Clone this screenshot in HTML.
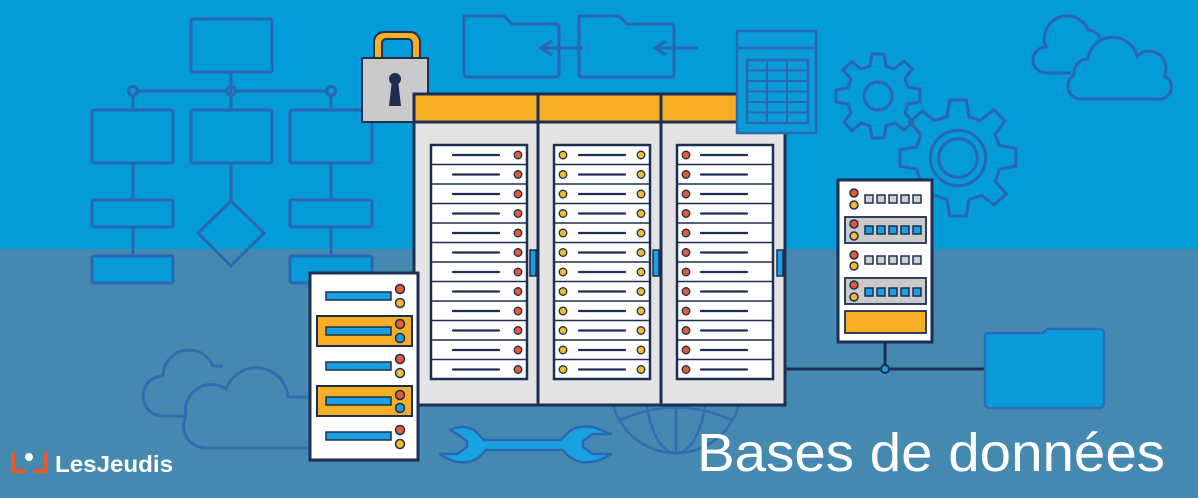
<!DOCTYPE html>
<html><head><meta charset="utf-8"><style>
html,body{margin:0;padding:0;width:1198px;height:498px;overflow:hidden;background:#4589b0}
svg{display:block}
</style></head><body>
<svg width="1198" height="498" viewBox="0 0 1198 498" xmlns="http://www.w3.org/2000/svg" font-family="Liberation Sans, sans-serif">
<rect x="0" y="0" width="1198" height="249" fill="#049bd9"/>
<rect x="0" y="249" width="1198" height="249" fill="#4589b0"/>

<!-- flowchart -->
<g fill="none" stroke="#2a67b3" stroke-width="3">
<rect x="191" y="19" width="81" height="53" rx="2"/>
<line x1="231" y1="72" x2="231" y2="110"/>
<line x1="137" y1="91" x2="227" y2="91"/><line x1="235" y1="91" x2="327" y2="91"/>
<circle cx="133" cy="91" r="4.5"/><circle cx="231" cy="91" r="4.5"/><circle cx="331" cy="91" r="4.5"/>
<line x1="133" y1="95" x2="133" y2="110"/><line x1="331" y1="95" x2="331" y2="110"/>
<rect x="92" y="110" width="81" height="53" rx="2"/>
<rect x="191" y="110" width="81" height="53" rx="2"/>
<rect x="290" y="110" width="82" height="53" rx="2"/>
<line x1="133" y1="163" x2="133" y2="200"/><line x1="331" y1="163" x2="331" y2="200"/>
<line x1="231" y1="163" x2="231" y2="201"/>
<rect x="92" y="200" width="81" height="27" rx="2"/>
<rect x="290" y="200" width="82" height="27" rx="2"/>
<polygon points="231,201 264,233 231,266 198,233"/>
<line x1="133" y1="227" x2="133" y2="256"/><line x1="331" y1="227" x2="331" y2="256"/>
<rect x="92" y="256" width="81" height="27" rx="2" fill="#0b9ad8"/>
<rect x="290" y="256" width="82" height="27" rx="2" fill="#0b9ad8"/>
</g>

<!-- top folders -->
<g fill="none" stroke="#2a67b3" stroke-width="3">
<path d="M464 16 h40 l8 8 h44 a3 3 0 0 1 3 3 v47 a3 3 0 0 1-3 3 h-89 a3 3 0 0 1-3-3 z"/>
<path d="M579 16 h40 l8 8 h44 a3 3 0 0 1 3 3 v47 a3 3 0 0 1-3 3 h-89 a3 3 0 0 1-3-3 z"/>
<path d="M583 48 h-40 M552 41 l-11 7 l11 7"/>
<path d="M698 48 h-40 M666 41 l-11 7 l11 7"/>
</g>

<!-- top clouds -->
<g fill="none" stroke="#2a67b3" stroke-width="3">
<path d="M1046 73 h25 M1046 73 a13 13 0 0 1 0-26 a22 22 0 0 1 42-17 a14 14 0 0 1 13 10"/>
<path d="M1082 99 a13 13 0 0 1-8-24 a14 14 0 0 1 14-16 a25 25 0 0 1 49-3 a17 17 0 0 1 27 20 a12 12 0 0 1 -6 23 z"/>
</g>

<!-- gears -->
<g fill="none" stroke="#2a67b3" stroke-width="3">
<g transform="translate(878,96)">
<path d="M-6,-42 L6,-42 L8,-30 L16,-27 L26,-35 L34,-27 L27,-17 L30,-9 L42,-7 L42,6 L30,8 L27,17 L35,26 L26,34 L17,27 L8,30 L6,42 L-6,42 L-8,30 L-17,27 L-26,35 L-34,26 L-27,17 L-30,8 L-42,6 L-42,-6 L-30,-8 L-27,-17 L-35,-26 L-26,-34 L-17,-27 L-8,-30 Z"/>
<circle r="14"/>
</g>
<g transform="translate(958,158) scale(1.38)">
<path d="M-6,-42 L6,-42 L8,-30 L16,-27 L26,-35 L34,-27 L27,-17 L30,-9 L42,-7 L42,6 L30,8 L27,17 L35,26 L26,34 L17,27 L8,30 L6,42 L-6,42 L-8,30 L-17,27 L-26,35 L-34,26 L-27,17 L-30,8 L-42,6 L-42,-6 L-30,-8 L-27,-17 L-35,-26 L-26,-34 L-17,-27 L-8,-30 Z" stroke-width="2.2"/>
<circle r="20" stroke-width="2.2"/><circle r="14" stroke-width="2.2"/>
</g>
</g>

<!-- bottom cloud -->
<g fill="none" stroke="#2f6db0" stroke-width="3">
<path d="M163 416 a20 20 0 0 1 0-40 h0 a26 26 0 0 1 50-10 h10"/>
<path d="M205 448 a22 22 0 0 1-19-32 a26 26 0 0 1 40-27 a32 32 0 0 1 62 8 h20"/>
<line x1="163" y1="416" x2="186" y2="416"/>
<line x1="205" y1="448" x2="312" y2="448"/>
</g>

<!-- globe -->
<g fill="none" stroke="#2f6db0" stroke-width="2.5">
<circle cx="676" cy="388" r="65"/>
<ellipse cx="676" cy="388" rx="30" ry="65"/>
<line x1="676" y1="323" x2="676" y2="453"/>
<path d="M620 420 q56 -25 112 0"/>
</g>

<!-- wrench -->
<path d="M450 430 q12-6 24 0 l10 10 h77 l10-10 q12-6 25-2 l15 6 h-18 l-10 7 v6 l10 7 h18 q-15 10-30 8 q-10-2-18-12 h-77 q-8 10-18 12 q-15 2-28-8 h17 l10-7 v-6 l-10-7 z" fill="#1aa1e2" stroke="#2a67b3" stroke-width="2.5" stroke-linejoin="round"/>

<!-- lock -->
<path d="M374 58 v-16 a10 10 0 0 1 10-10 h26 a10 10 0 0 1 10 10 v16 h-8 v-15 a4 4 0 0 0-4-4 h-22 a4 4 0 0 0-4 4 v15 z" fill="#f6ae24" stroke="#1d2e52" stroke-width="2"/>
<rect x="362" y="58" width="66" height="64" fill="#cacaca" stroke="#1d2e52" stroke-width="2"/>
<circle cx="395" cy="79" r="6" fill="#1d2e52"/><path d="M392 80 l-3 26 h12 l-3-26 z" fill="#1d2e52"/>

<!-- main rack -->
<rect x="414" y="94" width="371" height="311" fill="#e4e4e4" stroke="#1d2e52" stroke-width="3"/>
<rect x="414" y="94" width="371" height="28" fill="#f6ae24" stroke="#1d2e52" stroke-width="3"/>
<line x1="538" y1="94" x2="538" y2="405" stroke="#1d2e52" stroke-width="3"/>
<line x1="661" y1="94" x2="661" y2="405" stroke="#1d2e52" stroke-width="3"/>
<g stroke="#1d2e52" stroke-width="1.5" fill="#1a9fe0">
<rect x="530" y="250" width="6" height="26"/><rect x="653" y="250" width="6" height="26"/><rect x="777" y="250" width="6" height="26"/>
</g>
<g stroke="#1d2e52">
<rect x="431" y="145" width="96" height="234" fill="#fff" stroke-width="2.5"/>
<rect x="554" y="145" width="96" height="234" fill="#fff" stroke-width="2.5"/>
<rect x="677" y="145" width="96" height="234" fill="#fff" stroke-width="2.5"/>
</g>
<g stroke="#1d2e52" stroke-width="1.6">
<path d="M431 164.5h96M431 184h96M431 203.5h96M431 223h96M431 242.5h96M431 262h96M431 281.5h96M431 301h96M431 320.5h96M431 340h96M431 359.5h96"/>
<path d="M554 164.5h96M554 184h96M554 203.5h96M554 223h96M554 242.5h96M554 262h96M554 281.5h96M554 301h96M554 320.5h96M554 340h96M554 359.5h96"/>
<path d="M677 164.5h96M677 184h96M677 203.5h96M677 223h96M677 242.5h96M677 262h96M677 281.5h96M677 301h96M677 320.5h96M677 340h96M677 359.5h96"/>
</g>
<g stroke="#1d2e52" stroke-width="2.2" stroke-linecap="round">
<path d="M453 155h46M453 174.5h46M453 194h46M453 213.5h46M453 233h46M453 252.5h46M453 272h46M453 291.5h46M453 311h46M453 330.5h46M453 350h46M453 369.5h46"/>
<path d="M579 155h46M579 174.5h46M579 194h46M579 213.5h46M579 233h46M579 252.5h46M579 272h46M579 291.5h46M579 311h46M579 330.5h46M579 350h46M579 369.5h46"/>
<path d="M701 155h46M701 174.5h46M701 194h46M701 213.5h46M701 233h46M701 252.5h46M701 272h46M701 291.5h46M701 311h46M701 330.5h46M701 350h46M701 369.5h46"/>
</g>
<g stroke="#1d2e52" stroke-width="1.3">
<g fill="#e45a33">
<circle cx="518" cy="155" r="3.8"/><circle cx="518" cy="174.5" r="3.8"/><circle cx="518" cy="194" r="3.8"/><circle cx="518" cy="213.5" r="3.8"/><circle cx="518" cy="233" r="3.8"/><circle cx="518" cy="252.5" r="3.8"/><circle cx="518" cy="272" r="3.8"/><circle cx="518" cy="291.5" r="3.8"/><circle cx="518" cy="311" r="3.8"/><circle cx="518" cy="330.5" r="3.8"/><circle cx="518" cy="350" r="3.8"/><circle cx="518" cy="369.5" r="3.8"/>
<circle cx="686" cy="155" r="3.8"/><circle cx="686" cy="174.5" r="3.8"/><circle cx="686" cy="194" r="3.8"/><circle cx="686" cy="213.5" r="3.8"/><circle cx="686" cy="233" r="3.8"/><circle cx="686" cy="252.5" r="3.8"/><circle cx="686" cy="272" r="3.8"/><circle cx="686" cy="291.5" r="3.8"/><circle cx="686" cy="311" r="3.8"/><circle cx="686" cy="330.5" r="3.8"/><circle cx="686" cy="350" r="3.8"/><circle cx="686" cy="369.5" r="3.8"/>
</g>
<g fill="#f4bb2e">
<circle cx="563" cy="155" r="3.8"/><circle cx="563" cy="174.5" r="3.8"/><circle cx="563" cy="194" r="3.8"/><circle cx="563" cy="213.5" r="3.8"/><circle cx="563" cy="233" r="3.8"/><circle cx="563" cy="252.5" r="3.8"/><circle cx="563" cy="272" r="3.8"/><circle cx="563" cy="291.5" r="3.8"/><circle cx="563" cy="311" r="3.8"/><circle cx="563" cy="330.5" r="3.8"/><circle cx="563" cy="350" r="3.8"/><circle cx="563" cy="369.5" r="3.8"/>
<circle cx="641" cy="155" r="3.8"/><circle cx="641" cy="174.5" r="3.8"/><circle cx="641" cy="194" r="3.8"/><circle cx="641" cy="213.5" r="3.8"/><circle cx="641" cy="233" r="3.8"/><circle cx="641" cy="252.5" r="3.8"/><circle cx="641" cy="272" r="3.8"/><circle cx="641" cy="291.5" r="3.8"/><circle cx="641" cy="311" r="3.8"/><circle cx="641" cy="330.5" r="3.8"/><circle cx="641" cy="350" r="3.8"/><circle cx="641" cy="369.5" r="3.8"/>
</g>
</g>

<!-- table icon -->
<g stroke="#2a67b3" stroke-width="2.5" fill="#0a9bd9">
<rect x="737" y="31" width="79" height="102"/>
<line x1="737" y1="48" x2="816" y2="48"/>
<rect x="747" y="60" width="61" height="63" fill="none"/>
<path d="M767 60v63M787 60v63M747 70.5h61M747 81h61M747 91.5h61M747 102h61M747 112.5h61" fill="none" stroke-width="2"/>
</g>

<!-- left server -->
<rect x="310" y="273" width="108" height="187" fill="#fff" stroke="#1d2e52" stroke-width="3"/>
<rect x="317" y="316" width="95" height="30" fill="#f6ae24" stroke="#1d2e52" stroke-width="2"/>
<rect x="317" y="386" width="95" height="30" fill="#f6ae24" stroke="#1d2e52" stroke-width="2"/>
<g fill="#1a9fe0" stroke="#1d2e52" stroke-width="1.5">
<rect x="326" y="292" width="65" height="8"/><rect x="326" y="327" width="65" height="8"/><rect x="326" y="362" width="65" height="8"/><rect x="326" y="397" width="65" height="8"/><rect x="326" y="432" width="65" height="8"/>
</g>
<g stroke="#1d2e52" stroke-width="1.5">
<circle cx="400" cy="289" r="4.5" fill="#e45a33"/><circle cx="400" cy="303" r="4.5" fill="#f4bb2e"/>
<circle cx="400" cy="324" r="4.5" fill="#e45a33"/><circle cx="400" cy="338" r="4.5" fill="#1a9fe0"/>
<circle cx="400" cy="359" r="4.5" fill="#e45a33"/><circle cx="400" cy="373" r="4.5" fill="#f4bb2e"/>
<circle cx="400" cy="395" r="4.5" fill="#e45a33"/><circle cx="400" cy="408" r="4.5" fill="#1a9fe0"/>
<circle cx="400" cy="430" r="4.5" fill="#e45a33"/><circle cx="400" cy="444" r="4.5" fill="#f4bb2e"/>
</g>

<!-- connector -->
<g stroke="#1d2e52" stroke-width="3" fill="none">
<line x1="785" y1="369" x2="985" y2="369"/>
<line x1="885" y1="342" x2="885" y2="369"/>
</g>
<circle cx="885" cy="369" r="4" fill="#1a9fe0" stroke="#1d2e52" stroke-width="2"/>

<!-- right server -->
<rect x="838" y="180" width="94" height="162" fill="#fff" stroke="#1d2e52" stroke-width="3"/>
<rect x="845" y="217" width="81" height="26" fill="#cacaca" stroke="#1d2e52" stroke-width="1.8"/>
<rect x="845" y="278" width="81" height="26" fill="#cacaca" stroke="#1d2e52" stroke-width="1.8"/>
<rect x="845" y="311" width="81" height="22" fill="#f6ae24" stroke="#1d2e52" stroke-width="1.8"/>
<g stroke="#1d2e52" stroke-width="1.5">
<g fill="#cfcfcf">
<rect x="865" y="195" width="8" height="8"/><rect x="877" y="195" width="8" height="8"/><rect x="889" y="195" width="8" height="8"/><rect x="901" y="195" width="8" height="8"/><rect x="913" y="195" width="8" height="8"/>
<rect x="865" y="256" width="8" height="8"/><rect x="877" y="256" width="8" height="8"/><rect x="889" y="256" width="8" height="8"/><rect x="901" y="256" width="8" height="8"/><rect x="913" y="256" width="8" height="8"/>
</g>
<g fill="#1a9fe0">
<rect x="865" y="226" width="8" height="8"/><rect x="877" y="226" width="8" height="8"/><rect x="889" y="226" width="8" height="8"/><rect x="901" y="226" width="8" height="8"/><rect x="913" y="226" width="8" height="8"/>
<rect x="865" y="288" width="8" height="8"/><rect x="877" y="288" width="8" height="8"/><rect x="889" y="288" width="8" height="8"/><rect x="901" y="288" width="8" height="8"/><rect x="913" y="288" width="8" height="8"/>
</g>
<circle cx="854" cy="193" r="4" fill="#e45a33"/><circle cx="854" cy="205" r="4" fill="#f4bb2e"/>
<circle cx="854" cy="224" r="4" fill="#e45a33"/><circle cx="854" cy="236" r="4" fill="#f4bb2e"/>
<circle cx="854" cy="255" r="4" fill="#e45a33"/><circle cx="854" cy="266" r="4" fill="#f4bb2e"/>
<circle cx="854" cy="285" r="4" fill="#e45a33"/><circle cx="854" cy="297" r="4" fill="#f4bb2e"/>
</g>

<!-- folder right -->
<path d="M987 333 h56 l4 -4 h53 a4 4 0 0 1 4 4 v71 a4 4 0 0 1-4 4 h-111 a4 4 0 0 1-4-4 v-67 a4 4 0 0 1 2-4 z" fill="#0a9bd9" stroke="#2a6cb5" stroke-width="2.5"/>

<!-- logo -->
<g>
<path d="M13 452 v19 h13" fill="none" stroke="#e85a2c" stroke-width="4"/>
<path d="M46 452 v19 h-13" fill="none" stroke="#e85a2c" stroke-width="4"/>
<circle cx="29" cy="457" r="4" fill="#fff"/>
<text x="55" y="472" font-size="23" fill="#fff" font-weight="bold" textLength="118" lengthAdjust="spacingAndGlyphs">LesJeudis</text>
</g>

<text x="697" y="471" font-size="54" fill="#fff" textLength="468" lengthAdjust="spacingAndGlyphs">Bases de données</text>
</svg>
</body></html>
